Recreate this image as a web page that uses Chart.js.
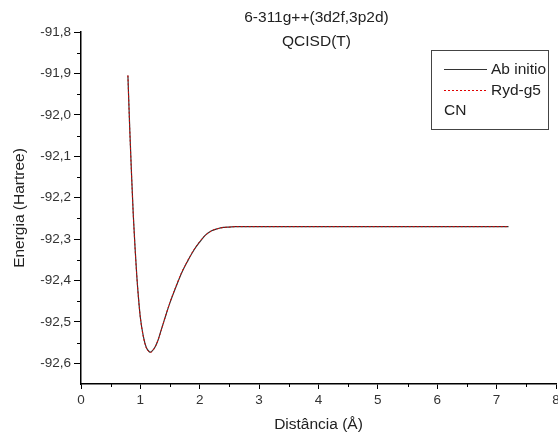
<!DOCTYPE html>
<html>
<head>
<meta charset="utf-8">
<script src="https://cdn.jsdelivr.net/npm/chart.js@4.4.0/dist/chart.umd.min.js"></script>
<style>
    html, body { margin: 0; padding: 0; background: #fff; }
    #wrap { width: 558px; height: 437px; }
</style>
</head>
<body>
<div id="wrap"><canvas id="grafico" width="558" height="437"></canvas></div>
<script>
// valores
const distancias = [0.79, 0.82, 0.85, 0.88, 0.91, 0.94, 0.97, 1.00, 1.05, 1.10, 1.15, 1.17, 1.20, 1.25, 1.30,
    1.35, 1.40, 1.50, 1.60, 1.70, 1.80, 1.90, 2.00, 2.10, 2.20, 2.30, 2.40, 2.50, 2.60, 2.80, 3.00,
    3.50, 4.00, 4.50, 5.00, 5.50, 6.00, 6.50, 7.00, 7.20];
const energiaAbInitio = [-91.905, -92.030, -92.140, -92.240, -92.320, -92.390, -92.445, -92.490, -92.535,
    -92.562, -92.572, -92.573, -92.570, -92.560, -92.543, -92.520, -92.497, -92.453, -92.415, -92.380,
    -92.352, -92.327, -92.307, -92.290, -92.280, -92.275, -92.272, -92.271, -92.270, -92.270, -92.270,
    -92.270, -92.270, -92.270, -92.270, -92.270, -92.270, -92.270, -92.270, -92.270];
const energiaRyd = [-91.905, -92.031, -92.141, -92.240, -92.321, -92.390, -92.446, -92.490, -92.536,
    -92.563, -92.573, -92.574, -92.571, -92.560, -92.543, -92.521, -92.497, -92.452, -92.414, -92.379,
    -92.351, -92.326, -92.306, -92.290, -92.280, -92.275, -92.272, -92.271, -92.270, -92.270, -92.270,
    -92.270, -92.270, -92.270, -92.270, -92.270, -92.270, -92.270, -92.270, -92.270];
const ticksX = [0, 1, 2, 3, 4, 5, 6, 7, 8];
const ticksY = [-92.6, -92.5, -92.4, -92.3, -92.2, -92.1, -92.0, -91.9, -91.8];
const titulo = ["6-311g++(3d2f,3p2d)", "QCISD(T)"];
const molecula = "CN";

const fonte = "'Liberation Sans', Arial, sans-serif";

const pontos = (ys) => distancias.map((d, i) => ({ x: d, y: ys[i] }));

// ticks menores, titulo e legenda desenhados por cima
const extras = {
    id: "extras",
    afterDraw(chart) {
        const ctx = chart.ctx;
        const sx = chart.scales.x;
        const sy = chart.scales.y;
        const area = chart.chartArea;
        ctx.save();
        ctx.strokeStyle = "#000";
        ctx.lineWidth = 1;
        // ticks menores
        for (let i = 0; i < ticksX.length - 1; i++) {
            const px = Math.round(sx.getPixelForValue((ticksX[i] + ticksX[i + 1]) / 2)) + 0.5;
            ctx.beginPath();
            ctx.moveTo(px, area.bottom);
            ctx.lineTo(px, area.bottom + 3);
            ctx.stroke();
        }
        for (let i = 0; i < ticksY.length - 1; i++) {
            const py = Math.round(sy.getPixelForValue((ticksY[i] + ticksY[i + 1]) / 2)) + 0.5;
            ctx.beginPath();
            ctx.moveTo(area.left, py);
            ctx.lineTo(area.left - 4, py);
            ctx.stroke();
        }
        // titulo
        ctx.fillStyle = "#222";
        ctx.font = "15.5px " + fonte;
        ctx.textAlign = "center";
        ctx.textBaseline = "middle";
        const cx = (area.left + area.right) / 2;
        ctx.fillText(titulo[0], cx - 2, 18);
        ctx.fillText(titulo[1], cx - 2, 42);

        // legenda
        ctx.strokeStyle = "#444";
        ctx.lineWidth = 1;
        ctx.strokeRect(431.5, 50.5, 117, 79);
        ctx.textAlign = "left";
        chart.data.datasets.forEach((ds, i) => {
            const y = 69.5 + i * 21;
            ctx.beginPath();
            ctx.strokeStyle = ds.borderColor;
            ctx.lineWidth = ds.borderWidth;
            ctx.setLineDash(ds.borderDash || []);
            ctx.moveTo(444, y);
            ctx.lineTo(487, y);
            ctx.stroke();
            ctx.setLineDash([]);
            ctx.fillText(ds.label, 491, y);
        });
        ctx.fillText(molecula, 444, 111);
        ctx.restore();
    },
};

new Chart(document.getElementById("grafico"), {
    type: "scatter",
    data: {
        datasets: [
            {
                label: "Ab initio",
                data: pontos(energiaAbInitio),
                showLine: true,
                borderColor: "#333",
                borderWidth: 1.2,
                pointRadius: 0,
                cubicInterpolationMode: "monotone",
                order: 2,
            },
            {
                label: "Ryd-g5",
                data: pontos(energiaRyd),
                showLine: true,
                borderColor: "#e00000",
                borderWidth: 1,
                borderDash: [2, 2],
                pointRadius: 0,
                cubicInterpolationMode: "monotone",
                order: 1,
            },
        ],
    },
    plugins: [extras],
    options: {
        responsive: false,
        animation: false,
        layout: { padding: { top: 32, right: 2, bottom: 0, left: 0 } },
        plugins: {
            legend: { display: false },
            tooltip: { enabled: false },
        },
        scales: {
            x: {
                type: "linear",
                min: 0,
                max: 8,
                afterBuildTicks: (s) => { s.ticks = ticksX.map((v) => ({ value: v })); },
                afterFit: (s) => { s.height = 53; s.paddingLeft = 0; s.paddingRight = 0; },
                grid: { drawOnChartArea: false, tickLength: 5, tickColor: "#000", tickWidth: 1 },
                border: { color: "#000", width: 1.5 },
                ticks: {
                    color: "#333",
                    padding: 3,
                    maxRotation: 0,
                    font: { family: fonte, size: 13.5 },
                    callback: (v) => String(v),
                },
                title: {
                    display: true,
                    text: "Distância (Å)",
                    color: "#222",
                    font: { family: fonte, size: 15.5 },
                    padding: { top: 0, bottom: 2.7 },
                },
            },
            y: {
                type: "linear",
                min: -92.65,
                max: -91.8,
                afterBuildTicks: (s) => { s.ticks = ticksY.map((v) => ({ value: v })); },
                afterFit: (s) => { s.width = 81; s.paddingTop = 0; s.paddingBottom = 0; },
                grid: { drawOnChartArea: false, tickLength: 7, tickColor: "#000", tickWidth: 1 },
                border: { color: "#000", width: 1.5 },
                ticks: {
                    color: "#333",
                    padding: 3,
                    font: { family: fonte, size: 13.5 },
                    callback: (v) => v.toFixed(1).replace(".", ","),
                },
                title: {
                    display: true,
                    text: "Energia (Hartree)",
                    color: "#222",
                    font: { family: fonte, size: 15.5 },
                    padding: { top: 10.5, bottom: 0 },
                },
            },
        },
    },
});
</script>
</body>
</html>
